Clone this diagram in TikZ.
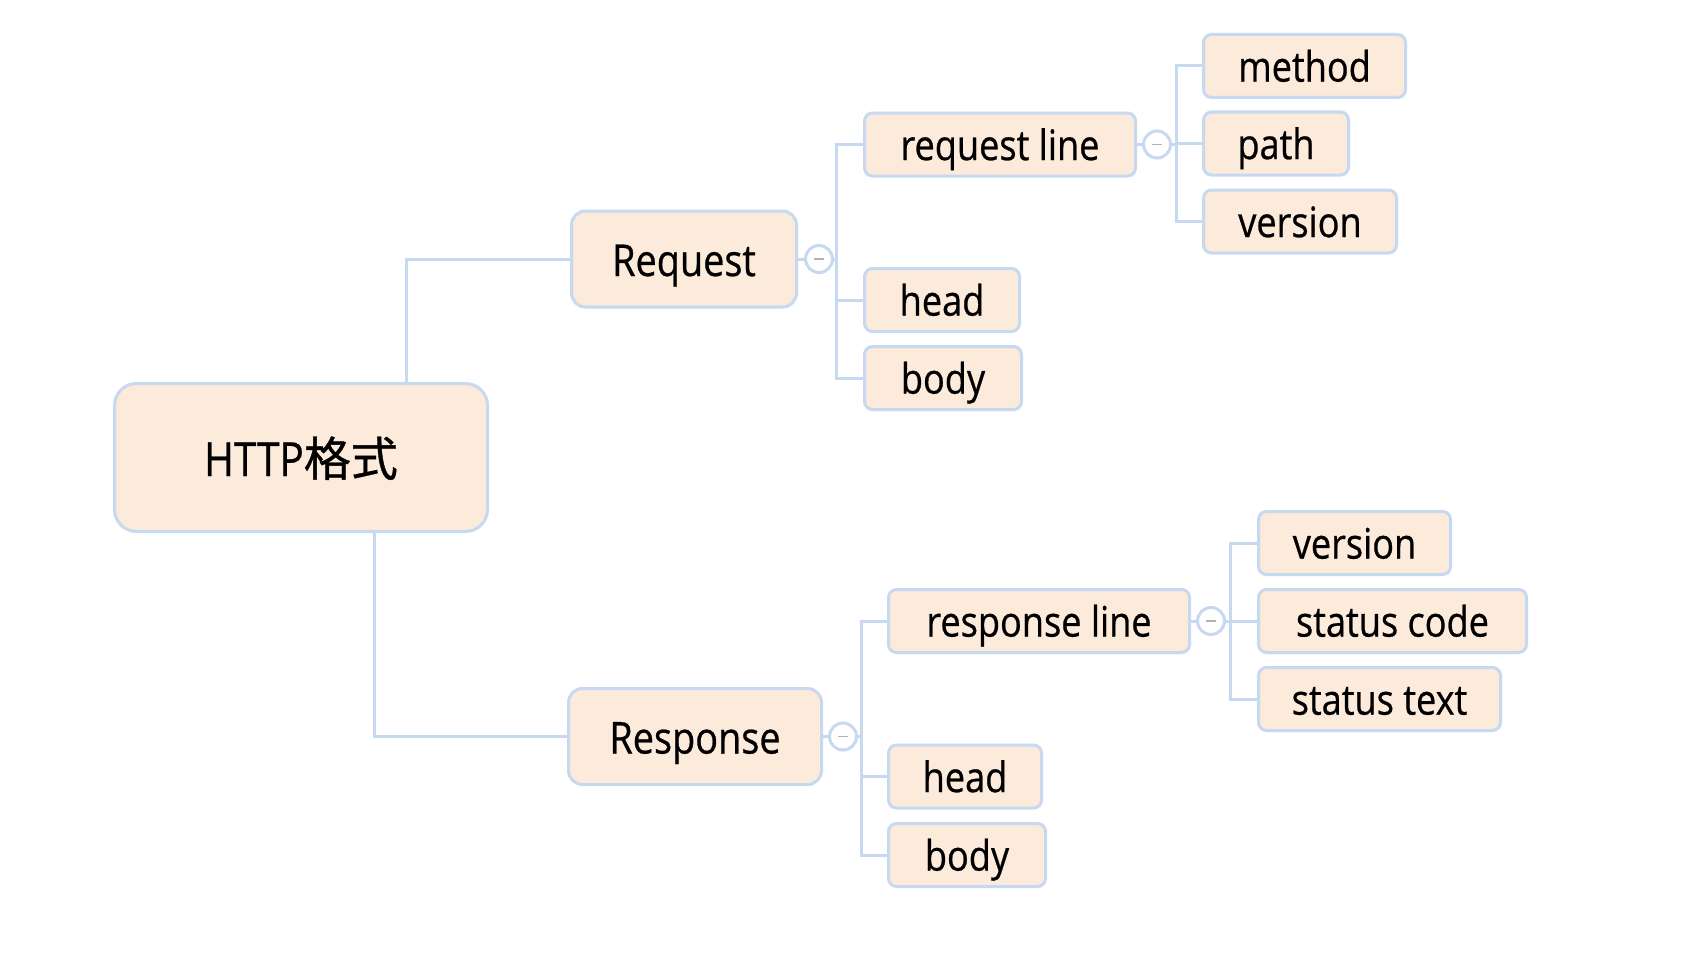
\documentclass[tikz,border=0pt]{standalone}
\usepackage{fontspec}
\newfontfamily\lat[FakeStretch=0.86,FakeBold=0.6]{Open Sans}
\newfontfamily\cjk[FakeBold=0.8]{Noto Sans CJK SC}
\definecolor{peach}{HTML}{FCEADA}
\definecolor{edgeblue}{HTML}{C6D9F1}
\begin{document}
\begin{tikzpicture}[x=0.5pt,y=-0.5pt,
 box/.style={draw=edgeblue, line width=1.5pt, fill=peach, inner sep=0pt, align=center},
 leaf/.style={box, rounded corners=4pt, minimum height=31.5pt, font={\lat\fontsize{21pt}{24pt}\selectfont}, text height=16pt, text depth=0.4pt},
 midbox/.style={box, rounded corners=7pt, minimum height=48pt, font={\lat\fontsize{22pt}{26pt}\selectfont}, text height=17.5pt, text depth=0.5pt},
 rootbox/.style={box, rounded corners=11pt, minimum height=74pt, minimum width=186.5pt, font={\lat\fontsize{23.5pt}{28pt}\selectfont}, text height=19pt, text depth=0.5pt},
 link/.style={draw=edgeblue, line width=1.5pt},
 collapse/.style={circle, draw=edgeblue, line width=1.5pt, fill=white, minimum size=13.5pt, inner sep=0pt},
]
\fill[white] (0,0) rectangle (1700,974);
\useasboundingbox (0,0) rectangle (1700,974);

% nodes
\node[rootbox] (http) at (301,457.5) {HTTP{\cjk 格式}};
\node[midbox, minimum width=112.5pt] (req) at (684,259) {Request};
\node[midbox, minimum width=126.5pt] (resp) at (695,736.5) {Response};

\node[leaf, minimum width=135.5pt] (reqline) at (1000,144.5) {request line};
\node[leaf, minimum width=77.5pt] (rhead) at (942,300) {head};
\node[leaf, minimum width=78.5pt] (rbody) at (943,378) {body};

\node[leaf, minimum width=101pt] (method) at (1304.5,66) {method};
\node[leaf, minimum width=72.5pt] (path) at (1276,143.5) {path};
\node[leaf, minimum width=96.5pt] (versiona) at (1300,221.5) {version};

\node[leaf, minimum width=150.5pt] (respline) at (1039,621) {response line};
\node[leaf, minimum width=76.5pt] (shead) at (965,776.5) {head};
\node[leaf, minimum width=78.5pt] (sbody) at (967,855) {body};

\node[leaf, minimum width=96pt] (versionb) at (1354.5,543) {version};
\node[leaf, minimum width=134pt] (scode) at (1392.5,621) {status code};
\node[leaf, minimum width=121pt] (stext) at (1379.5,699) {status text};

% collapse markers and bracket points
\node[collapse] (c1) at (819,259) {};
\node[collapse] (c2) at (1157,144.5) {};
\node[collapse] (c3) at (843,736.5) {};
\node[collapse] (c4) at (1211,621) {};
\coordinate (b1) at (836,259);
\coordinate (b2) at (1176,144.5);
\coordinate (b3) at (861,736.5);
\coordinate (b4) at (1230,621);

% connectors
\draw[link] ([xshift=52.5pt]http.north) |- (req.west);
\draw[link] ([xshift=36.5pt]http.south) |- (resp.west);

\draw[link] (req.east) -- (c1.west);
\draw[link] (c1.east) -- (b1);
\draw[link] (reqline.west) -| (b1) |- (rbody.west);
\draw[link] (rhead.west) -- (rhead.west -| b1);

\draw[link] (reqline.east) -- (c2.west);
\draw[link] (c2.east) -- (b2);
\draw[link] (method.west) -| (b2) |- (versiona.west);
\draw[link] (path.west) -- (path.west -| b2);

\draw[link] (resp.east) -- (c3.west);
\draw[link] (c3.east) -- (b3);
\draw[link] (respline.west) -| (b3) |- (sbody.west);
\draw[link] (shead.west) -- (shead.west -| b3);

\draw[link] (respline.east) -- (c4.west);
\draw[link] (c4.east) -- (b4);
\draw[link] (versionb.west) -| (b4) |- (stext.west);
\draw[link] (scode.west) -- (scode.west -| b4);

\foreach \c in {c1,c2,c3,c4}
  \draw[gray!60, line width=0.9pt] ([xshift=-2.5pt]\c.center) -- ([xshift=2.5pt]\c.center);
\end{tikzpicture}
\end{document}
